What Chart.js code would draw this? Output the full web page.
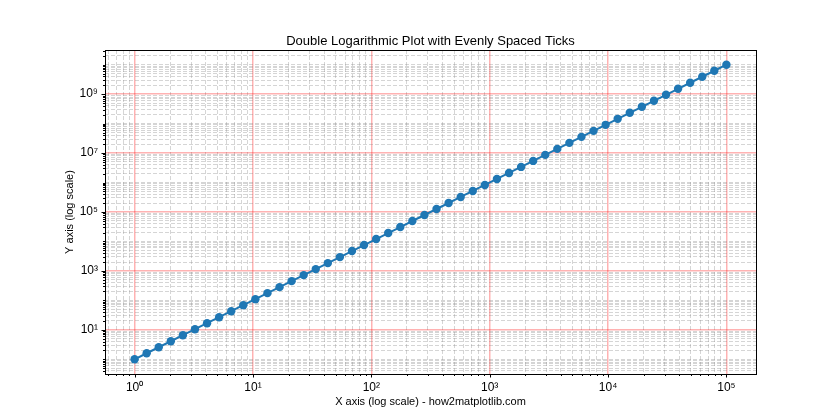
<!DOCTYPE html>
<html><head><meta charset="utf-8">
<script src="https://cdn.jsdelivr.net/npm/chart.js@4"></script>
<style>html,body{margin:0;padding:0;background:#fff}canvas{display:block}</style>
</head><body>
<canvas id="c" width="840" height="420"></canvas>
<script>
// ---- data ----
const xValues = [1, 1.2649, 1.6, 2.0236, 2.5595, 3.2375, 4.0949, 5.1795, 6.5513, 8.2864,
  10.481, 13.257, 16.768, 21.21, 26.827, 33.932, 42.919, 54.287, 68.665, 86.851,
  109.85, 138.95, 175.75, 222.3, 281.17, 355.65, 449.84, 568.99, 719.69, 910.3,
  1151.4, 1456.3, 1842.1, 2329.9, 2947.1, 3727.6, 4714.9, 5963.6, 7543.1, 9540.9,
  12068, 15264, 19307, 24421, 30888, 39069, 49417, 62506, 79060, 100000];
const yValues = [1, 1.6, 2.56, 4.095, 6.551, 10.48, 16.77, 26.83, 42.92, 68.66,
  109.9, 175.8, 281.2, 449.8, 719.7, 1151, 1842, 2947, 4715, 7543,
  12068, 19307, 30888, 49417, 79060, 1.2649e5, 2.0236e5, 3.2375e5, 5.1795e5, 8.2864e5,
  1.3257e6, 2.121e6, 3.3932e6, 5.4287e6, 8.6851e6, 1.3895e7, 2.223e7, 3.5565e7, 5.6899e7, 9.103e7,
  1.4563e8, 2.3299e8, 3.7276e8, 5.9636e8, 9.5409e8, 1.5264e9, 2.4421e9, 3.9069e9, 6.2506e9, 1e10];
const xMajorTicks = [1, 10, 100, 1000, 10000, 100000];
const yMajorTicks = [10, 1000, 100000, 10000000, 1000000000];
const minorSubs = [1, 2, 3, 4, 5, 6, 7, 8, 9];
const xRange = [0.56234, 177828];
const yRange = [0.31623, 3.1623e10];

const titleText = 'Double Logarithmic Plot with Evenly Spaced Ticks';
const xLabel = 'X axis (log scale) - how2matplotlib.com';
const yLabel = 'Y axis (log scale)';

const FONT = "'Liberation Sans', Arial, sans-serif";
const SUP = {'0':'⁰','1':'¹','2':'²','3':'³','4':'⁴','5':'⁵','6':'⁶','7':'⁷','8':'⁸','9':'⁹','-':'⁻'};
function powLabel(v){ const e = Math.round(Math.log10(v)); return '10' + String(e).split('').map(c=>SUP[c]).join(''); }

function buildTickList(range, majors){
  const out = [];
  const k0 = Math.floor(Math.log10(range[0])), k1 = Math.ceil(Math.log10(range[1]));
  for (let k = k0; k <= k1; k++) {
    for (const s of minorSubs) {
      const v = parseFloat((s * Math.pow(10, k)).toPrecision(12));
      if (v >= range[0] && v <= range[1]) out.push({value: v, major: majors.includes(v)});
    }
  }
  return out;
}

const RED = 'rgba(255,0,0,0.3)';
const GRAY = 'rgba(128,128,128,0.33)';

const frameAndTicks = {
  id: 'frameAndTicks',
  afterDraw(chart){
    const {ctx, chartArea: a, scales} = chart;
    ctx.save();
    ctx.strokeStyle = '#000';
    ctx.lineWidth = 1;
    ctx.setLineDash([]);
    ctx.beginPath();
    scales.x.ticks.forEach(t => {
      const px = Math.round(scales.x.getPixelForValue(t.value)) + 0.5;
      const len = t.major ? 3.5 : 2;
      ctx.moveTo(px, a.bottom); ctx.lineTo(px, a.bottom + len);
    });
    scales.y.ticks.forEach(t => {
      const py = Math.round(scales.y.getPixelForValue(t.value)) + 0.5;
      const len = t.major ? 3.5 : 2;
      ctx.moveTo(a.left, py); ctx.lineTo(a.left - len, py);
    });
    ctx.stroke();
    ctx.strokeRect(Math.round(a.left) + 0.5, Math.round(a.top) + 0.5,
                   Math.round(a.right - a.left), Math.round(a.bottom - a.top));
    // title centred over the axes
    ctx.fillStyle = '#000';
    ctx.font = '13px ' + FONT;
    ctx.textAlign = 'center';
    ctx.textBaseline = 'alphabetic';
    ctx.fillText(titleText, (a.left + a.right) / 2, a.top - 5);
    ctx.restore();
  }
};

const gridOpts = {
  color: (c) => (c.tick && c.tick.major) ? RED : GRAY,
  lineWidth: (c) => (c.tick && c.tick.major) ? 1.5 : 1,
  drawTicks: false
};
const borderOpts = {
  display: false,
  dash: (c) => (c.tick && c.tick.major) ? [] : [4, 2]
};

new Chart(document.getElementById('c'), {
  type: 'line',
  data: {
    datasets: [{
      data: xValues.map((x, i) => ({x: x, y: yValues[i]})),
      borderColor: '#1f77b4',
      backgroundColor: '#1f77b4',
      borderWidth: 2,
      pointRadius: 4.2,
      pointBorderWidth: 0,
      pointBackgroundColor: '#1f77b4',
      tension: 0
    }]
  },
  options: {
    responsive: false,
    devicePixelRatio: 1,
    animation: false,
    layout: {padding: {left: 0, right: 84, top: 50, bottom: 0}},
    plugins: {
      legend: {display: false},
      tooltip: {enabled: false},
      title: {display: false}
    },
    scales: {
      x: {
        type: 'logarithmic', min: xRange[0], max: xRange[1], bounds: 'data',
        afterBuildTicks: (s) => { s.ticks = buildTickList(xRange, xMajorTicks); },
        afterFit: (s) => { s.height = 46; },
        grid: gridOpts, border: borderOpts,
        ticks: {
          autoSkip: false, maxRotation: 0, minRotation: 0, padding: 6, color: '#000',
          font: {family: FONT, size: 12},
          callback: (v) => xMajorTicks.includes(v) ? powLabel(v) : ''
        },
        title: {display: true, text: xLabel, color: '#000',
          font: {family: FONT, size: 11, lineHeight: 1.2}, padding: {top: 0, bottom: 11.4}}
      },
      y: {
        type: 'logarithmic', min: yRange[0], max: yRange[1], bounds: 'data',
        afterBuildTicks: (s) => { s.ticks = buildTickList(yRange, yMajorTicks); },
        afterFit: (s) => { s.width = 105; },
        grid: gridOpts, border: borderOpts,
        ticks: {
          autoSkip: false, padding: 7, color: '#000',
          font: {family: FONT, size: 12},
          callback: (v) => yMajorTicks.includes(v) ? powLabel(v) : ''
        },
        title: {display: true, text: yLabel, color: '#000',
          font: {family: FONT, size: 11, lineHeight: 1.2}, padding: {top: 63, bottom: 0}}
      }
    }
  },
  plugins: [frameAndTicks]
});
</script>
</body></html>
